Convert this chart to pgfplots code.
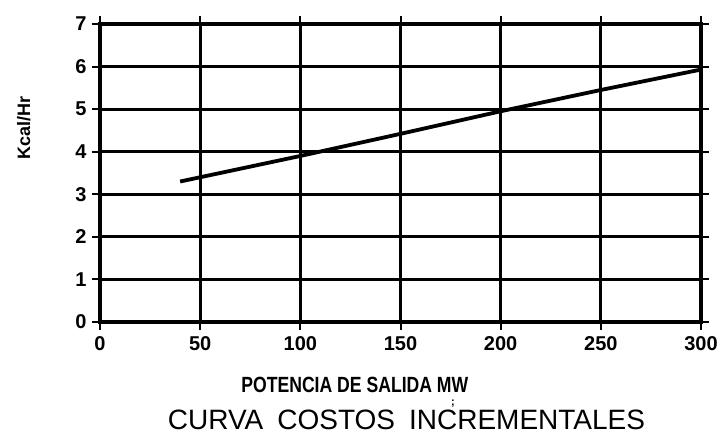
\documentclass[border=0pt]{standalone}
\usepackage{fontspec}
\setmainfont{Liberation Sans}
\newfontfamily\condbold[FakeStretch=0.8]{Liberation Sans Bold}
\usepackage{pgfplots}
\pgfplotsset{compat=1.18}
\begin{document}
\begin{tikzpicture}[x=1pt,y=1pt]
\path[use as bounding box] (0,0) rectangle (721,441);
\begin{axis}[
  at={(100pt,119pt)}, anchor=south west,
  width=601pt, height=298pt, scale only axis,
  xmin=0, xmax=300, ymin=0, ymax=7,
  xtick={0,50,...,300}, ytick={0,1,...,7},
  grid=major, major grid style={black, line width=2.8pt},
  axis line style={black, line width=4.5pt},
  tick style={black, line width=2pt}, tick align=outside, major tick length=8pt,
  tick label style={font=\fontsize{20}{20}\selectfont\bfseries},
  xticklabel style={yshift=-3pt},
  yticklabel style={xshift=-2pt},
  /pgf/number format/assume math mode=true,
  xlabel={POTENCIA DE SALIDA MW},
  xlabel style={at={(axis description cs:0.424,0)}, anchor=center, yshift=-63pt, font=\fontsize{22}{22}\condbold},
  ylabel={Kcal/Hr},
  ylabel style={at={(axis description cs:-0.127,0.65)}, anchor=center, font=\fontsize{18}{18}\selectfont\bfseries},
  title={CURVA\hspace{0.5em}COSTOS\hspace{0.5em}INCREMENTALES},
  title style={at={(axis description cs:0.51,0)}, anchor=center, yshift=-104pt, font=\fontsize{28}{28}\selectfont},
]
\addplot[black, line width=3.8pt] coordinates {(40,3.3) (50,3.4) (100,3.9) (150,4.42) (200,4.95) (250,5.45) (300,5.93)};
\end{axis}
\node[inner sep=0pt, font=\fontsize{11}{11}\selectfont\bfseries] at (453,37) {;};
\end{tikzpicture}
\end{document}
